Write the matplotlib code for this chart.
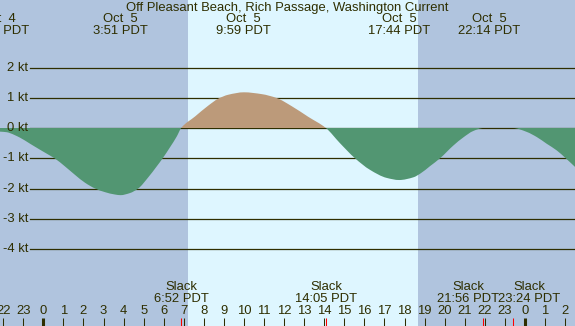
import matplotlib
matplotlib.use("Agg")
import matplotlib.pyplot as plt
import matplotlib.transforms as mtransforms
from matplotlib.path import Path
from matplotlib.patches import PathPatch
import numpy as np

# ---------------- data ----------------
title = "Off Pleasant Beach, Rich Passage, Washington Current"

# current speed (hours from Oct 5 00:00 PDT, knots)
curve_hours = [-2.16, -1.81, -1.66, -1.16, -0.66, -0.16, 0.33, 0.58, 1.08, 1.58,
               2.08, 2.58, 3.07, 3.58, 3.85, 4.32, 4.73, 5.23, 5.65, 5.95,
               6.32, 6.65, 6.87, 7.56, 8.22, 8.72, 9.22, 10.0, 10.88, 11.63,
               12.38, 13.2, 14.08, 14.78, 15.53, 16.27, 17.11, 17.73, 18.44, 18.8,
               19.27, 19.77, 20.43, 20.93, 21.42, 21.93, 22.23, 22.75, 23.4, 24.09,
               24.59, 25.08, 25.58, 26.03, 26.5]
curve_kt = [-0.12, -0.14, -0.17, -0.32, -0.52, -0.72, -0.91, -1.01, -1.27, -1.55,
            -1.81, -2.0, -2.12, -2.2, -2.22, -2.15, -2.0, -1.63, -1.27, -1.0,
            -0.63, -0.28, 0.0, 0.38, 0.74, 0.97, 1.1, 1.18, 1.12, 0.99,
            0.72, 0.37, 0.0, -0.5, -1.0, -1.38, -1.65, -1.72, -1.63, -1.5,
            -1.26, -1.0, -0.58, -0.31, -0.1, 0.0, 0.0, 0.0, 0.0, -0.13,
            -0.3, -0.52, -0.74, -1.0, -1.29]

# max / min events (top labels)
max_dates = ["Oct  4", "Oct  5", "Oct  5", "Oct  5", "Oct  5"]
max_times = ["21:44 PDT", "3:51 PDT", "9:59 PDT", "17:44 PDT", "22:14 PDT"]
max_hours = [-2.24, 3.85, 9.98, 17.73, 22.23]

# slack events (bottom labels)
slack_times = ["6:52 PDT", "14:05 PDT", "21:56 PDT", "23:24 PDT"]
slack_hours = [6.87, 14.08, 21.93, 23.40]

# daylight
sunrise_h = 7.21
sunset_h = 18.67

kt_levels = [2, 1, 0, -1, -2, -3, -4]
hour_ticks = list(range(-2, 27))

# ---------------- layout / style ----------------
W, H = 575, 326
px_per_hour = 20.07
x0_px = 43.3           # pixel of Oct 5 00:00
zero_px = 128.0        # pixel row of 0 kt
px_per_kt = 30.25

night_col = "#b0c4de"
day_col = "#def6ff"
ebb_col = "#529672"
flood_col = "#bc9a7a"
ink = "#2e2e00"
font = ["Liberation Sans", "DejaVu Sans"]
fs = 9.4

plt.rcParams["font.family"] = font

fig = plt.figure(figsize=(W / 100, H / 100), dpi=100)
fig.patch.set_facecolor(night_col)
ax = fig.add_axes([0, 0, 1, 1])
ax.set_facecolor(night_col)
ax.set_xlim(-x0_px / px_per_hour, (W - x0_px) / px_per_hour)
ax.set_ylim(-(H - zero_px) / px_per_kt, zero_px / px_per_kt)
ax.axis("off")

ax.axvspan(sunrise_h, sunset_h, color=day_col, zorder=0, lw=0)

# gridlines
for k in kt_levels:
    ax.axhline(k, xmin=30 / W, xmax=1, color=ink, lw=0.9, zorder=1)
ylab_tr = mtransforms.blended_transform_factory(fig.transFigure, ax.transData)
for k in kt_levels:
    ax.text(28 / W, k, f"{k} kt", transform=ylab_tr, ha="right", va="center",
            color=ink, fontsize=fs, zorder=5)


# smooth (monotone cubic Bezier) lobes drawn as Path patches
def monotone_slopes(x, y):
    n = len(x)
    d = np.diff(y) / np.diff(x)
    m = np.zeros(n)
    m[0], m[-1] = d[0], d[-1]
    for i in range(1, n - 1):
        if d[i - 1] * d[i] <= 0:
            m[i] = 0.0
        else:
            w1 = 2 * (x[i + 1] - x[i]) + (x[i] - x[i - 1])
            w2 = (x[i + 1] - x[i]) + 2 * (x[i] - x[i - 1])
            m[i] = (w1 + w2) / (w1 / d[i - 1] + w2 / d[i])
    return m


h = np.array(curve_hours)
v = np.array(curve_kt)
m = monotone_slopes(h, v)

zero_idx = [i for i in range(len(v)) if v[i] == 0.0]
bounds = sorted(set([0] + zero_idx + [len(v) - 1]))
for a, b in zip(bounds[:-1], bounds[1:]):
    seg = v[a:b + 1]
    if np.all(seg == 0):
        continue
    verts = [(h[a], 0.0), (h[a], v[a])]
    codes = [Path.MOVETO, Path.LINETO]
    for i in range(a, b):
        dx = h[i + 1] - h[i]
        verts += [(h[i] + dx / 3, v[i] + m[i] * dx / 3),
                  (h[i + 1] - dx / 3, v[i + 1] - m[i + 1] * dx / 3),
                  (h[i + 1], v[i + 1])]
        codes += [Path.CURVE4] * 3
    verts += [(h[b], 0.0), (h[a], 0.0)]
    codes += [Path.LINETO, Path.CLOSEPOLY]
    col = flood_col if seg.sum() > 0 else ebb_col
    ax.add_patch(PathPatch(Path(verts, codes), facecolor=col, edgecolor="none", zorder=2))


def ypx(p):
    return 1 - p / H


tr = mtransforms.blended_transform_factory(ax.transData, fig.transFigure)

# title
fig.text(287.5 / W, ypx(7.5), title, ha="center", va="center", color=ink, fontsize=fs)

# top event labels
for d, t, hh in zip(max_dates, max_times, max_hours):
    ax.text(hh, ypx(19.5), d, transform=tr, ha="center", va="center", color=ink, fontsize=fs)
    ax.text(hh, ypx(31.5), t, transform=tr, ha="center", va="center", color=ink, fontsize=fs)

# bottom slack labels (shifted apart where they would collide)
label_shift_px = [0, 0, -15, 16]
for t, hh, s in zip(slack_times, slack_hours, label_shift_px):
    xx = hh + s / px_per_hour
    ax.text(xx, ypx(287.5), "Slack", transform=tr, ha="center", va="center", color=ink, fontsize=fs)
    ax.text(xx, ypx(299.5), t, transform=tr, ha="center", va="center", color=ink, fontsize=fs)

# hour ticks and labels
for hh in hour_ticks:
    lab = str(hh % 24)
    ax.text(hh, ypx(311.5), lab, transform=tr, ha="center", va="center", color=ink, fontsize=fs)
    lw = 2.2 if hh % 24 == 0 else 0.75
    ax.plot([hh, hh], [ypx(318), ypx(326.5)], transform=tr, color=ink, lw=lw,
            solid_capstyle="butt", zorder=5)

# slack ticks in red
for hh in slack_hours:
    ax.plot([hh, hh], [ypx(318), ypx(326.5)], transform=tr, color="#ff0000", lw=0.75,
            solid_capstyle="butt", zorder=6)

fig.savefig("out.png", dpi=100, facecolor=night_col)
